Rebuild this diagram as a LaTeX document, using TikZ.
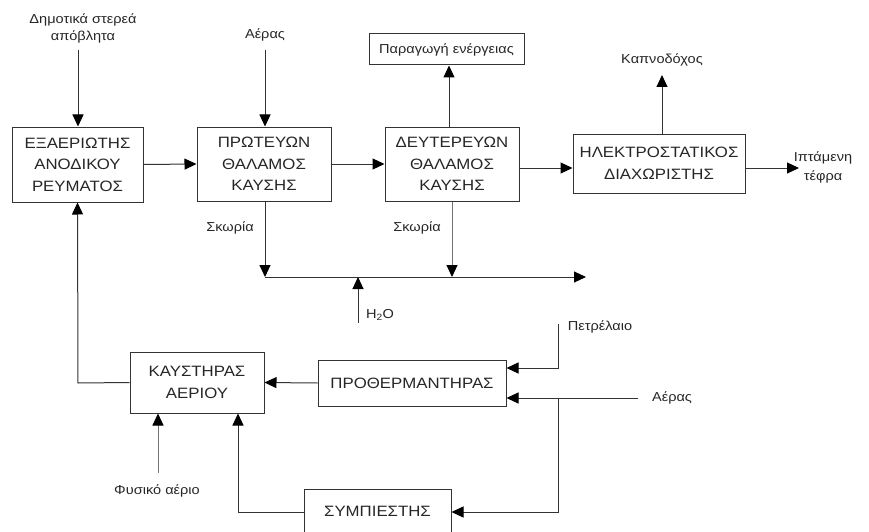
\documentclass[tikz,border=0pt]{standalone}
\usepackage{fontspec}
\setmainfont{Liberation Sans}[FakeStretch=1.12]
\usetikzlibrary{arrows.meta}
\newcommand\bxfont{\fontsize{15}{21.5}\selectfont}
\newcommand\lbfont{\fontsize{13}{17}\selectfont}
\tikzset{
  box/.style={draw=black!80, line width=1pt, align=center, inner sep=0pt, font=\bxfont, text=black!85},
  lbl/.style={align=center, inner sep=0pt, font=\lbfont, text=black!85},
  arr/.style={draw=black!80, line width=1pt, -{Triangle[length=12pt,width=11pt,color=black]}},
  ln/.style={draw=black!80, line width=1pt},
  light/.style={draw=black!55},
}
\begin{document}
\begin{tikzpicture}[x=1pt,y=-1pt]
\useasboundingbox (0,0) rectangle (869,532);
% boxes
\node[box, minimum width=131pt, minimum height=75pt] (exa) at (77.5,164.5) {ΕΞΑΕΡΙΩΤΗΣ\\ΑΝΟΔΙΚΟΥ\\ΡΕΥΜΑΤΟΣ};
\node[box, minimum width=134pt, minimum height=74pt] (prot) at (264,164) {ΠΡΩΤΕΥΩΝ\\ΘΑΛΑΜΟΣ\\ΚΑΥΣΗΣ};
\node[box, minimum width=134pt, minimum height=74pt] (deyt) at (452,164) {ΔΕΥΤΕΡΕΥΩΝ\\ΘΑΛΑΜΟΣ\\ΚΑΥΣΗΣ};
\node[box, font=\lbfont, minimum width=155pt, minimum height=31pt] (energy) at (446.5,49.5) {Παραγωγή ενέργειας};
\node[box, minimum width=172pt, minimum height=59pt] (hlek) at (659,163.5) {ΗΛΕΚΤΡΟΣΤΑΤΙΚΟΣ\\ΔΙΑΧΩΡΙΣΤΗΣ};
\node[box, minimum width=134pt, minimum height=61pt] (kays) at (197,382.5) {ΚΑΥΣΤΗΡΑΣ\\ΑΕΡΙΟΥ};
\node[box, minimum width=188pt, minimum height=46pt] (proth) at (412,383) {ΠΡΟΘΕΡΜΑΝΤΗΡΑΣ};
\node[box, minimum width=147pt, minimum height=44pt] (symp) at (377.5,511) {ΣΥΜΠΙΕΣΤΗΣ};
% labels
\node[lbl] (dim) at (83,28) {Δημοτικά στερεά\\απόβλητα};
\node[lbl] (aer1) at (265,35) {Αέρας};
\node[lbl] (kap) at (662,60) {Καπνοδόχος};
\node[lbl, font=\fontsize{13}{19}\selectfont] (ipt) at (823,167) {Ιπτάμενη\\τέφρα};
\node[lbl] (sk1) at (230,228) {Σκωρία};
\node[lbl] (sk2) at (417,228) {Σκωρία};
\node[lbl] (h2o) at (380,315) {H\textsubscript{2}O};
\node[lbl] (pet) at (600,327) {Πετρέλαιο};
\node[lbl] (aer2) at (672,398) {Αέρας};
\node[lbl] (fys) at (157,491) {Φυσικό αέριο};
% coordinates
\coordinate (dimS) at (78,50);
\coordinate (aerS) at (265,50);
\coordinate (ex) at (449,0);
\coordinate (kapE) at (662,75);
\coordinate (hy) at (0,168);
\coordinate (iptE) at (799,168);
\coordinate (sl) at (0,277);
\coordinate (slA) at (265,277);
\coordinate (slE) at (586,277);
\coordinate (h2oS) at (358,323);
\coordinate (fb) at (78,383);
\coordinate (fysS) at (158,473);
\coordinate (sympL) at (238,512);
\coordinate (petS) at (558,324);
\coordinate (petC) at (558,368);
\coordinate (aerR) at (638,398);
\coordinate (br) at (558,398);
\coordinate (brD) at (558,512);
% top inputs
\draw[arr] (dimS) -- (dimS |- exa.north);
\draw[arr] (aerS) -- (aerS |- prot.north);
% main line
\draw[arr] (exa.east) -- (prot.west);
\draw[arr] (prot.east) -- (deyt.west);
\draw[arr] (deyt.east |- hy) -- (hlek.west |- hy);
\draw[arr] (deyt.north -| ex) -- (energy.south -| ex);
\draw[arr] (hlek.north -| kapE) -- (kapE);
\draw[arr] (hlek.east |- hy) -- (iptE);
% slag
\draw[arr] (prot.south -| slA) -- (slA);
\draw[arr, light] (deyt.south) -- (deyt.south |- sl);
\draw[arr] (slA) -- (slE);
\draw[arr] (h2oS) -- (h2oS |- sl);
% bottom
\draw[arr] (kays.west) -- (fb) -- (exa.south);
\draw[arr] (proth.west) -- (kays.east);
\draw[arr, light] (fysS) -- (fysS |- kays.south);
\draw[arr] (symp.west |- sympL) -- (sympL) -- (sympL |- kays.south);
\draw[arr] (petS) -- (petC) -- (proth.east |- petC);
\draw[arr] (aerR) -- (proth.east |- aerR);
\draw[arr] (br) -- (brD) -- (symp.east |- brD);
\end{tikzpicture}
\end{document}
